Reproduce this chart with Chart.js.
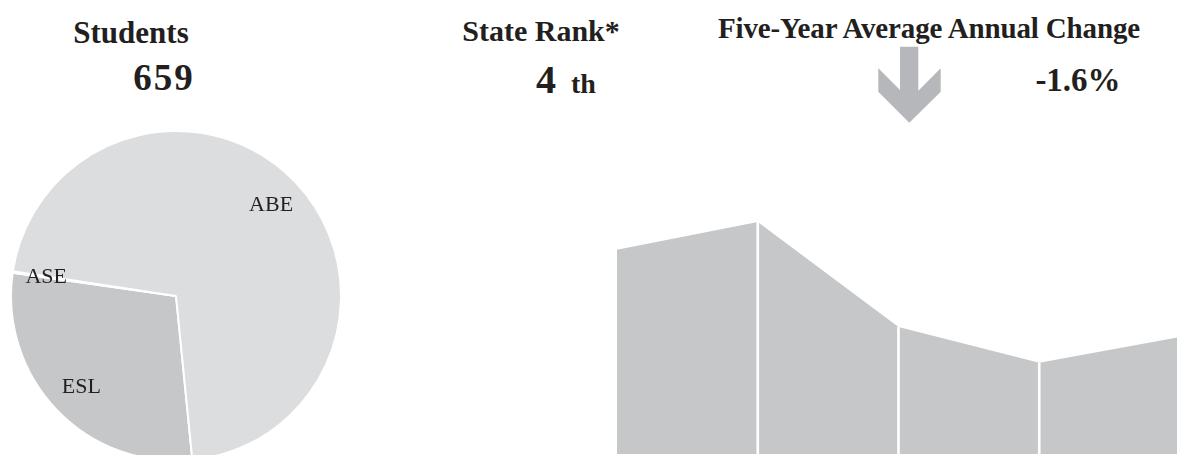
<!DOCTYPE html>
<html>
<head>
<meta charset="utf-8">
<script src="https://cdn.jsdelivr.net/npm/chart.js@4"></script>
<style>
  html, body { margin: 0; padding: 0; background: #fff; }
  body { width: 1177px; height: 455px; position: relative; overflow: hidden; font-family: "Liberation Serif", "DejaVu Serif", serif; color: #231f20; }
  .txt { position: absolute; font-weight: bold; line-height: 1; white-space: nowrap; }
  #pie-wrap { position: absolute; left: 10px; top: 130px; width: 332px; height: 332px; }
  #area-wrap { position: absolute; left: 617px; top: 216px; width: 563px; height: 238px; }
  #arrow { position: absolute; left: 0; top: 0; }
</style>
</head>
<body>

<div class="txt" style="left:31px;top:17px;width:200px;text-align:center;font-size:31px;">Students</div>
<div class="txt" style="left:64px;top:59px;width:200px;text-align:center;font-size:37px;letter-spacing:2px;" id="students-count"></div>

<div class="txt" style="left:441px;top:16px;width:200px;text-align:center;font-size:30px;">State Rank*</div>
<div class="txt" style="left:536px;top:60px;font-size:40px;" id="rank-num"></div>
<div class="txt" style="left:571px;top:70px;font-size:28px;">th</div>

<div class="txt" style="left:679px;top:14px;width:500px;text-align:center;font-size:29px;letter-spacing:-0.15px;">Five-Year Average Annual Change</div>
<div class="txt" style="left:978px;top:64px;width:200px;text-align:center;font-size:33px;" id="avg-change"></div>

<svg id="arrow" width="1177" height="455">
  <polygon fill="#b6b7ba" points="900,46.7 918.3,46.7 918.3,90.7 940.7,68.3 940.7,91.7 909.3,122.7 878.3,91.7 878.3,68.3 900,90"/>
</svg>

<div id="pie-wrap"><canvas id="pie-chart"></canvas></div>
<div id="area-wrap"><canvas id="area-chart"></canvas></div>

<script>
// Header figures
const studentsCount = 659;
const stateRank = 4;
const avgAnnualChange = -1.6;

// Pie: students by program (clockwise from the bottom edge)
const pieLabels = ['ESL', 'ASE', 'ABE'];
const pieValues = [190, 1, 468];
const pieColors = ['#c6c7c9', '#c6c7c9', '#dcdddf'];

// Area: enrollment over five years
const years = ['2012', '2013', '2014', '2015', '2016'];
const enrollment = [703, 717, 664, 646, 659];
// white divider lines at the interior years
const dividers = [null, 717, 664, 646, null];

document.getElementById('students-count').textContent = studentsCount;
document.getElementById('rank-num').textContent = stateRank;
document.getElementById('avg-change').textContent = avgAnnualChange.toFixed(1) + '%';

// draws the slice names inside the pie
const sliceLabels = {
    id: 'sliceLabels',
    afterDatasetsDraw(chart) {
        const ctx = chart.ctx;
        const meta = chart.getDatasetMeta(0);
        ctx.save();
        ctx.font = '22px "Liberation Serif", serif';
        ctx.fillStyle = '#231f20';
        ctx.textAlign = 'center';
        ctx.textBaseline = 'middle';
        meta.data.forEach((arc, i) => {
            const p = arc.getProps(['x', 'y', 'startAngle', 'endAngle', 'outerRadius'], true);
            const mid = (p.startAngle + p.endAngle) / 2;
            const r = p.outerRadius * 0.795;
            ctx.fillText(pieLabels[i], p.x + Math.cos(mid) * r, p.y + Math.sin(mid) * r);
        });
        ctx.restore();
    }
};

new Chart(document.getElementById('pie-chart'), {
    type: 'pie',
    data: {
        labels: pieLabels,
        datasets: [{
            data: pieValues,
            backgroundColor: pieColors,
            borderColor: '#ffffff',
            borderWidth: 2
        }]
    },
    options: {
        responsive: true,
        maintainAspectRatio: false,
        animation: false,
        rotation: 174.3,
        layout: { padding: 0 },
        plugins: {
            legend: { display: false },
            tooltip: { enabled: false }
        }
    },
    plugins: [sliceLabels]
});

new Chart(document.getElementById('area-chart'), {
    type: 'line',
    data: {
        labels: years,
        datasets: [{
            type: 'bar',
            data: dividers,
            backgroundColor: '#ffffff',
            barThickness: 2,
            order: 0
        }, {
            type: 'line',
            data: enrollment,
            fill: 'start',
            backgroundColor: '#c6c7c9',
            borderWidth: 0,
            pointRadius: 0,
            tension: 0,
            order: 1
        }]
    },
    options: {
        responsive: true,
        maintainAspectRatio: false,
        animation: false,
        layout: { padding: 0 },
        scales: {
            x: { display: false, offset: false },
            y: { display: false, min: 600, max: 720 }
        },
        plugins: {
            legend: { display: false },
            tooltip: { enabled: false }
        }
    }
});
</script>
</body>
</html>
